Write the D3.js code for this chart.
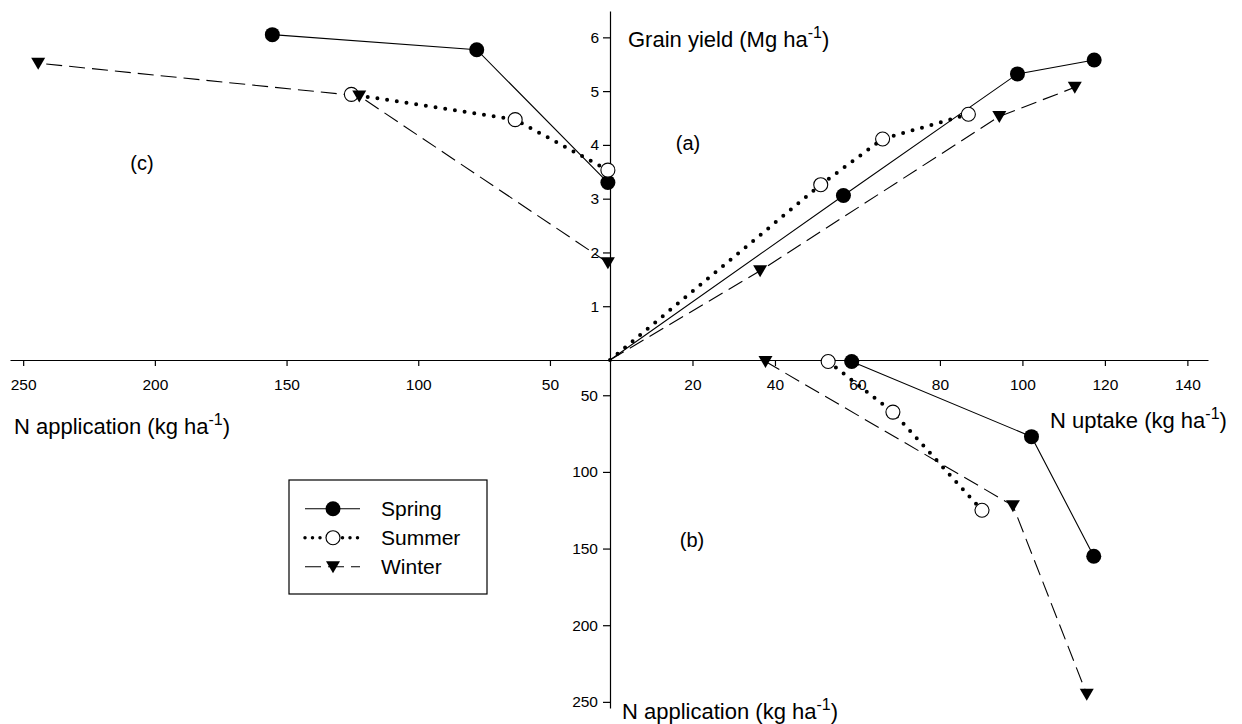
<!DOCTYPE html>
<html>
<head>
<meta charset="utf-8">
<script src="https://cdn.jsdelivr.net/npm/d3@7"></script>
<style>
  html, body { margin: 0; padding: 0; background: #fff; }
  svg { display: block; font-family: "Liberation Sans", Arial, sans-serif; }
  .axis path, .axis line { stroke: #000; stroke-width: 1.2; }
  .axis text { font-size: 15.5px; fill: #000; }
</style>
</head>
<body>
<svg id="chart" width="1242" height="724"></svg>
<script>
// Seasons and tick values
const seasons = ["Spring", "Summer", "Winter"];
const uptakeTicks = [20, 40, 60, 80, 100, 120, 140];
const yieldTicks = [1, 2, 3, 4, 5, 6];
const applicationTicks = [50, 100, 150, 200, 250];

// (a) N uptake (kg/ha) vs grain yield (Mg/ha); every series starts at the origin
const springUptakeA = [0, 56.6, 98.8, 117.4];
const springYieldA  = [0, 3.06, 5.32, 5.58];
const summerUptakeA = [0, 51.1, 66.1, 86.9];
const summerYieldA  = [0, 3.26, 4.11, 4.57];
const winterUptakeA = [0, 36.4, 94.4, 112.7];
const winterYieldA  = [0, 1.66, 4.53, 5.07];

// (b) N uptake vs N application (kg/ha)
const springUptakeB = [58.6, 102.2, 117.3];
const springAppB    = [28, 77, 155];
const summerUptakeB = [52.9, 68.6, 90.2];
const summerAppB    = [28, 61, 125];
const winterUptakeB = [37.7, 97.7, 115.6];
const winterAppB    = [28, 122, 245];

// (c) N application vs grain yield
const springAppC   = [28, 77.8, 155.4];
const springYieldC = [3.30, 5.77, 6.05];
const summerAppC   = [28, 63.2, 125.4];
const summerYieldC = [3.53, 4.47, 4.94];
const winterAppC   = [28, 122.4, 244.3];
const winterYieldC = [1.81, 4.91, 5.52];

const svg = d3.select("#chart");

// Four scales sharing one origin
const xUptake = d3.scaleLinear().domain([0, 145]).range([610, 1208]);
const yYield  = d3.scaleLinear().domain([0, 6.49]).range([360, 11]);
const xApp    = d3.scaleLinear().domain([27.2, 255]).range([610, 10]);
const yApp    = d3.scaleLinear().domain([27, 254]).range([360, 708]);
const intFmt  = d3.format("d");

// Axes
svg.append("g").attr("class", "axis").attr("transform", "translate(0,360)")
  .call(d3.axisBottom(xUptake).tickValues(uptakeTicks).tickFormat(intFmt)
    .tickSize(6).tickSizeOuter(0).tickPadding(13));
svg.append("g").attr("class", "axis").attr("transform", "translate(0,360)")
  .call(d3.axisBottom(xApp).tickValues(applicationTicks).tickFormat(intFmt)
    .tickSize(6).tickSizeOuter(0).tickPadding(13));
svg.append("g").attr("class", "axis").attr("transform", "translate(610,0)")
  .call(d3.axisLeft(yYield).tickValues(yieldTicks).tickFormat(intFmt)
    .tickSize(7).tickSizeOuter(0).tickPadding(4));
svg.append("g").attr("class", "axis").attr("transform", "translate(610,0)")
  .call(d3.axisLeft(yApp).tickValues(applicationTicks).tickFormat(intFmt)
    .tickSize(7).tickSizeOuter(0).tickPadding(5));

// Line styles per season
const styles = {
  Spring: { dash: null, width: 1.1, cap: "butt" },
  Summer: { dash: "0,9.8", width: 4, cap: "round" },
  Winter: { dash: "16,7", width: 1.1, cap: "butt" }
};

function series(season, xs, ys, xScale, yScale, withMarkers) {
  const pts = xs.map((v, i) => [xScale(v), yScale(ys[i])]);
  const st = styles[season];
  svg.append("path")
    .attr("d", d3.line()(pts))
    .attr("fill", "none")
    .attr("stroke", "#000")
    .attr("stroke-width", st.width)
    .attr("stroke-linecap", st.cap)
    .attr("stroke-dasharray", st.dash);
  return pts.filter((p, i) => withMarkers[i]);
}

function marker(parent, season, x, y) {
  if (season === "Spring") {
    parent.append("circle").attr("cx", x).attr("cy", y).attr("r", 7.5).attr("fill", "#000");
  } else if (season === "Summer") {
    parent.append("circle").attr("cx", x).attr("cy", y).attr("r", 7)
      .attr("fill", "#fff").attr("stroke", "#000").attr("stroke-width", 1.1);
  } else {
    parent.append("path")
      .attr("d", `M${x - 7},${y - 5.5}L${x + 7},${y - 5.5}L${x},${y + 6.5}Z`)
      .attr("fill", "#000");
  }
}

const panelA = [
  ["Spring", springUptakeA, springYieldA],
  ["Summer", summerUptakeA, summerYieldA],
  ["Winter", winterUptakeA, winterYieldA]
];
const panelB = [
  ["Spring", springUptakeB, springAppB],
  ["Summer", summerUptakeB, summerAppB],
  ["Winter", winterUptakeB, winterAppB]
];
const panelC = [
  ["Spring", springAppC, springYieldC],
  ["Summer", summerAppC, summerYieldC],
  ["Winter", winterAppC, winterYieldC]
];

const markerList = [];
panelA.forEach(([s, xs, ys]) => {
  series(s, xs, ys, xUptake, yYield, xs.map(v => v > 0))
    .forEach(p => markerList.push([s, p]));
});
panelB.forEach(([s, xs, ys]) => {
  series(s, xs, ys, xUptake, yApp, xs.map(() => true))
    .forEach(p => markerList.push([s, p]));
});
panelC.forEach(([s, xs, ys]) => {
  series(s, xs, ys, xApp, yYield, xs.map(() => true))
    .forEach(p => markerList.push([s, p]));
});
markerList.forEach(([s, p]) => marker(svg, s, p[0], p[1]));

// Axis titles with superscript units
function title(x, y, main) {
  const t = svg.append("text").attr("x", x).attr("y", y)
    .attr("font-size", 22).attr("fill", "#000");
  t.append("tspan").text(main);
  t.append("tspan").attr("font-size", 16).attr("dy", -9).text("-1");
  t.append("tspan").attr("dy", 9).text(")");
}
title(628, 47, "Grain yield (Mg ha");
title(1050, 428, "N uptake (kg ha");
title(14, 434, "N application (kg ha");
title(622, 719, "N application (kg ha");

// Panel labels
[["(a)", 688, 143], ["(b)", 692, 540], ["(c)", 142, 163]].forEach(([t, x, y]) => {
  svg.append("text").attr("x", x).attr("y", y).attr("text-anchor", "middle")
    .attr("dominant-baseline", "central").attr("font-size", 20).text(t);
});

// Legend
const legend = svg.append("g");
legend.append("rect").attr("x", 289).attr("y", 480).attr("width", 198).attr("height", 114)
  .attr("fill", "#fff").attr("stroke", "#000").attr("stroke-width", 1.2);
seasons.forEach((s, i) => {
  const y = 508.7 + i * 29;
  const st = styles[s];
  legend.append("line").attr("x1", 305).attr("x2", 360).attr("y1", y).attr("y2", y)
    .attr("stroke", "#000").attr("stroke-width", s === "Summer" ? 3.5 : 1.1)
    .attr("stroke-linecap", st.cap)
    .attr("stroke-dasharray", s === "Summer" ? "0,7.5" : (s === "Winter" ? "16,7" : null));
  marker(legend, s, 333, y);
  legend.append("text").attr("x", 381).attr("y", y).attr("dominant-baseline", "central")
    .attr("font-size", 21).text(s);
});
</script>
</body>
</html>
